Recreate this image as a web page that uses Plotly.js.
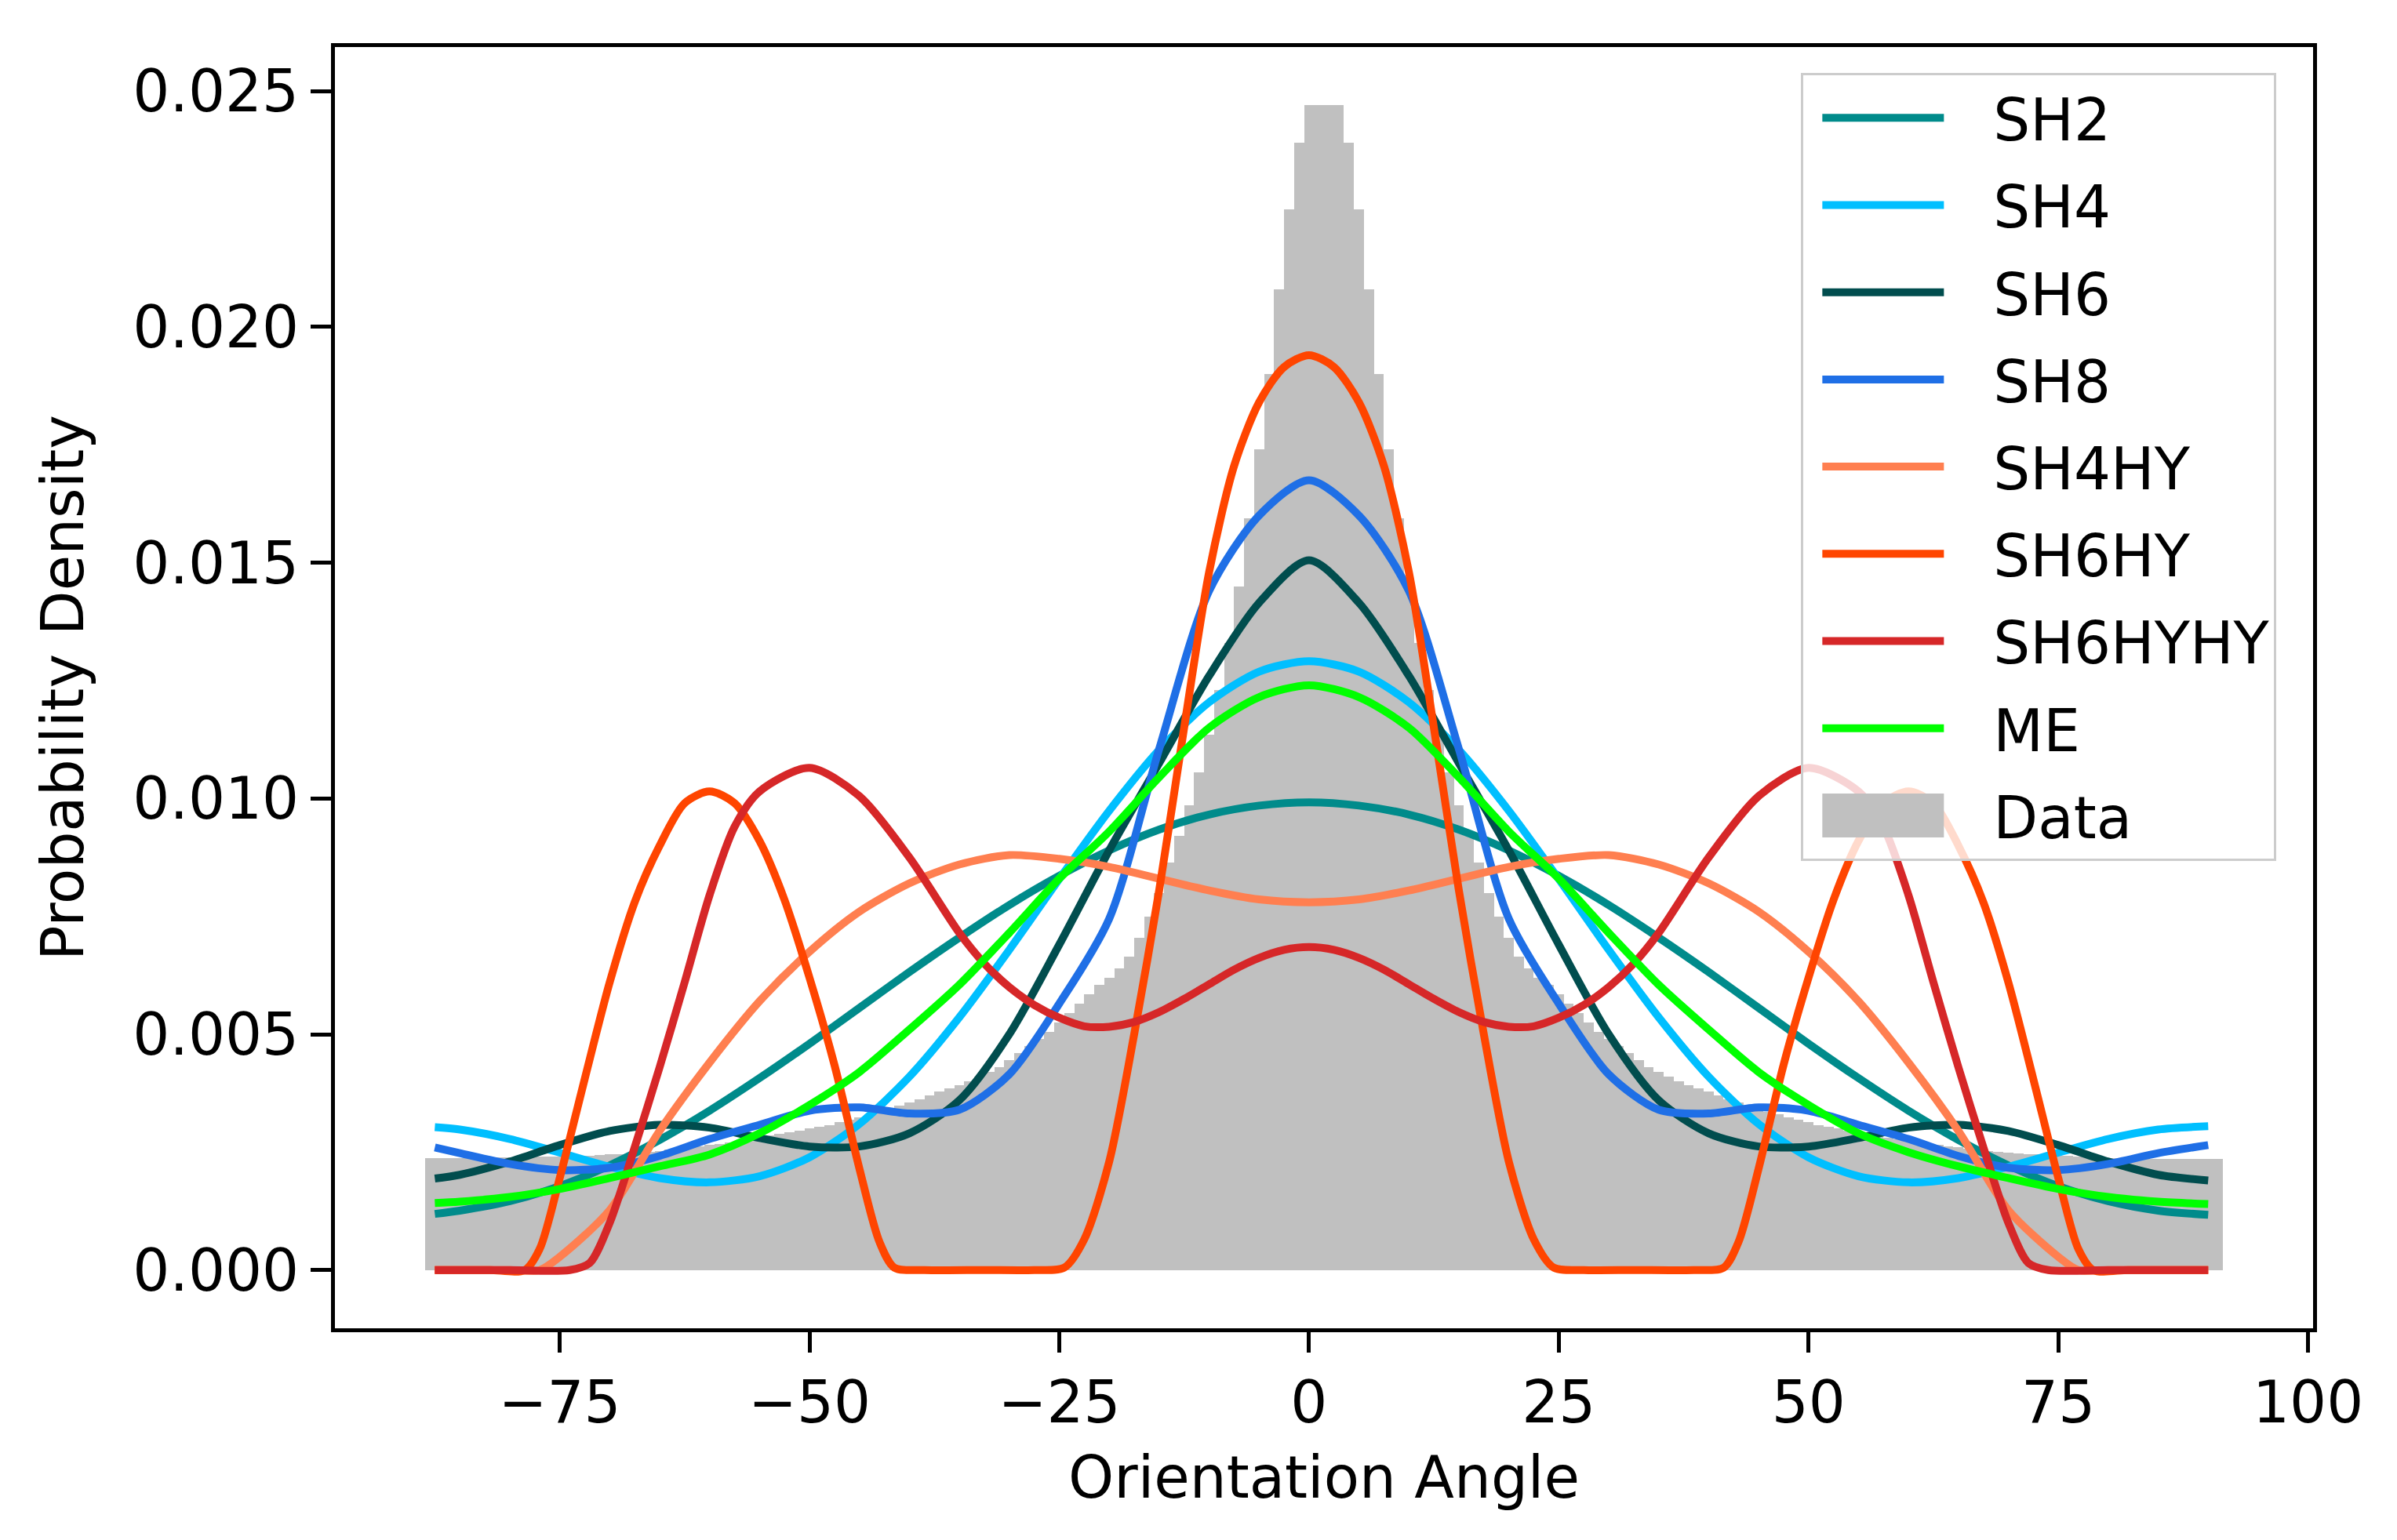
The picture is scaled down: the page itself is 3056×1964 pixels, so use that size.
<!DOCTYPE html>
<html>
<head>
<meta charset="utf-8">
<script src="https://cdn.plot.ly/plotly-3.0.1.min.js"></script>
<style>
  body { margin: 0; background: #ffffff; }
  #chart { width: 3056px; height: 1964px; }
</style>
</head>
<body>
<div id="chart"></div>
<script>
// Histogram of the measured orientation angles (1 degree bins, first bin centred on -88)
const dataBinStart = -88;
const dataBinWidth = 1;
const dataDensity = [
    0.00238, 0.00238, 0.00238, 0.00238, 0.00238, 0.00239, 0.00239, 0.00239, 0.00239, 0.00240,
    0.00240, 0.00240, 0.00241, 0.00241, 0.00242, 0.00242, 0.00243, 0.00244, 0.00245, 0.00246,
    0.00247, 0.00249, 0.00251, 0.00253, 0.00255, 0.00257, 0.00260, 0.00262, 0.00265, 0.00268,
    0.00271, 0.00274, 0.00278, 0.00281, 0.00285, 0.00289, 0.00292, 0.00296, 0.00300, 0.00304,
    0.00308, 0.00313, 0.00318, 0.00324, 0.00330, 0.00336, 0.00342, 0.00348, 0.00355, 0.00362,
    0.00370, 0.00378, 0.00385, 0.00392, 0.00400, 0.00410, 0.00420, 0.00430, 0.00445, 0.00460,
    0.00475, 0.00490, 0.00505, 0.00525, 0.00545, 0.00565, 0.00585, 0.00605, 0.00620, 0.00640,
    0.00665, 0.00705, 0.00750, 0.00800, 0.00865, 0.00920, 0.00985, 0.01055, 0.01135, 0.01230,
    0.01330, 0.01450, 0.01595, 0.01740, 0.01900, 0.02080, 0.02250, 0.02390, 0.02470, 0.02470,
    0.02470, 0.02470, 0.02390, 0.02250, 0.02080, 0.01900, 0.01740, 0.01595, 0.01450, 0.01330,
    0.01230, 0.01135, 0.01055, 0.00985, 0.00920, 0.00865, 0.00800, 0.00750, 0.00705, 0.00665,
    0.00640, 0.00620, 0.00605, 0.00585, 0.00565, 0.00545, 0.00525, 0.00505, 0.00490, 0.00475,
    0.00460, 0.00445, 0.00430, 0.00420, 0.00410, 0.00400, 0.00392, 0.00385, 0.00378, 0.00370,
    0.00362, 0.00355, 0.00348, 0.00342, 0.00336, 0.00330, 0.00324, 0.00318, 0.00313, 0.00308,
    0.00304, 0.00300, 0.00296, 0.00292, 0.00289, 0.00285, 0.00281, 0.00278, 0.00274, 0.00271,
    0.00268, 0.00265, 0.00262, 0.00260, 0.00257, 0.00255, 0.00253, 0.00251, 0.00249, 0.00247,
    0.00246, 0.00245, 0.00244, 0.00243, 0.00242, 0.00241, 0.00240, 0.00239, 0.00238, 0.00237,
    0.00237, 0.00236, 0.00236, 0.00236, 0.00235, 0.00235, 0.00235, 0.00235, 0.00235, 0.00235
];

// Angles where the smooth model curves were read
const angleGrid = [-87.5, -85, -80, -75, -70, -65, -60, -55, -50, -45, -40, -35, -30, -25, -20, -15, -10, -5,
                   0, 5, 10, 15, 20, 25, 30, 35, 40, 45, 50, 55, 60, 65, 70, 75, 80, 85, 90];

const sh2 = [0.00119, 0.00126, 0.00146, 0.00178, 0.00222, 0.00276, 0.00338, 0.00407, 0.00480, 0.00556,
             0.00632, 0.00705, 0.00774, 0.00836, 0.00890, 0.00934, 0.00966, 0.00985, 0.00992, 0.00985,
             0.00966, 0.00934, 0.00890, 0.00836, 0.00774, 0.00705, 0.00632, 0.00556, 0.00480, 0.00407,
             0.00338, 0.00276, 0.00222, 0.00178, 0.00146, 0.00126, 0.00117];

const sh4 = [0.00303, 0.00298, 0.00278, 0.00249, 0.00219, 0.00195, 0.00186, 0.00199, 0.00239, 0.00310,
             0.00410, 0.00536, 0.00679, 0.00829, 0.00974, 0.01103, 0.01204, 0.01269, 0.01291, 0.01269,
             0.01204, 0.01103, 0.00974, 0.00829, 0.00679, 0.00536, 0.00410, 0.00310, 0.00239, 0.00199,
             0.00186, 0.00195, 0.00219, 0.00249, 0.00278, 0.00298, 0.00305];

const sh6 = [0.00194, 0.00202, 0.00230, 0.00265, 0.00295, 0.00308, 0.00302, 0.00280, 0.00262, 0.00262,
             0.00290, 0.00360, 0.00500, 0.00690, 0.00890, 0.01075, 0.01260, 0.01415, 0.01505, 0.01415,
             0.01260, 0.01075, 0.00890, 0.00690, 0.00500, 0.00360, 0.00290, 0.00262, 0.00262, 0.00280,
             0.00302, 0.00308, 0.00295, 0.00265, 0.00230, 0.00202, 0.00190];

const sh8 = [0.00260, 0.00248, 0.00225, 0.00212, 0.00217, 0.00242, 0.00278, 0.00308, 0.00338, 0.00345,
             0.00332, 0.00340, 0.00415, 0.00565, 0.00745, 0.01105, 0.01440, 0.01600, 0.01675, 0.01600,
             0.01440, 0.01105, 0.00745, 0.00565, 0.00415, 0.00340, 0.00332, 0.00345, 0.00338, 0.00308,
             0.00278, 0.00242, 0.00217, 0.00212, 0.00225, 0.00248, 0.00265];

const me = [0.00142, 0.00145, 0.00155, 0.00172, 0.00195, 0.00220, 0.00245, 0.00290, 0.00350, 0.00420,
            0.00510, 0.00605, 0.00715, 0.00830, 0.00930, 0.01045, 0.01150, 0.01215, 0.01240, 0.01215,
            0.01150, 0.01045, 0.00930, 0.00830, 0.00715, 0.00605, 0.00510, 0.00420, 0.00350, 0.00290,
            0.00250, 0.00220, 0.00195, 0.00172, 0.00155, 0.00145, 0.00140];

// The hybrid curves are clipped at zero, so they were read at extra angles
const sh4hyAngles = [-87.5, -85, -80, -77, -75, -70, -65, -60, -55, -50, -45, -40, -35, -30, -25, -20, -15, -10, -5,
                     0, 5, 10, 15, 20, 25, 30, 35, 40, 45, 50, 55, 60, 65, 70, 75, 77, 80, 85, 90];
const sh4hy = [0, 0, 0, 0, 0.00028, 0.00127, 0.00295, 0.00440, 0.00570, 0.00675,
               0.00760, 0.00820, 0.00860, 0.00880, 0.00872, 0.00855, 0.00830, 0.00805, 0.00786,
               0.00780,
               0.00786, 0.00805, 0.00830, 0.00855, 0.00872, 0.00880, 0.00860, 0.00820, 0.00760,
               0.00675, 0.00570, 0.00440, 0.00295, 0.00127, 0.00028, 0, 0, 0, 0];

const sh6hyAngles = [-87.5, -86, -82, -78.5, -77, -75, -72.5, -70, -67.5, -65, -62.5, -60, -57.5, -55, -52.5,
                     -50, -47.5, -45, -43, -41.5, -38.5, -32.5, -27.5, -24.5, -22.5, -20, -17.5, -15, -12.5,
                     -10, -7.5, -5, -2.5, 0, 2.5, 5, 7.5, 10, 12.5, 15, 17.5, 20, 22.5, 24.5, 27.5, 32.5,
                     38.5, 41.5, 43, 45, 47.5, 50, 52.5, 55, 57.5, 60, 62.5, 65, 67.5, 70, 72.5, 75, 77,
                     78.5, 82, 86, 90];
const sh6hy = [0, 0, 0, 0, 0.00045, 0.00195, 0.00405, 0.00610, 0.00780, 0.00900, 0.00990, 0.01015, 0.00990,
               0.00910, 0.00785, 0.00620, 0.00435, 0.00215, 0.00060, 0.00005, 0, 0, 0, 0.00005, 0.00065,
               0.00230, 0.00500, 0.00805, 0.01150, 0.01480, 0.01705, 0.01840, 0.01915, 0.01940, 0.01915,
               0.01840, 0.01705, 0.01480, 0.01150, 0.00805, 0.00500, 0.00230, 0.00065, 0.00005, 0, 0,
               0, 0.00005, 0.00060, 0.00215, 0.00435, 0.00620, 0.00785, 0.00910, 0.00990, 0.01015,
               0.00990, 0.00900, 0.00780, 0.00610, 0.00405, 0.00195, 0.00045, 0, 0, 0, 0];

const sh6hyhyAngles = [-87.5, -85, -80, -74, -72, -70, -67.5, -65, -62.5, -60, -57.5, -55, -50, -45, -40,
                       -35, -32.5, -30, -27.5, -25, -22.5, -20, -17.5, -15, -12.5, -10, -7.5, -5, -2.5, 0,
                       2.5, 5, 7.5, 10, 12.5, 15, 17.5, 20, 22.5, 25, 27.5, 30, 32.5, 35, 40, 45, 50, 55,
                       57.5, 60, 62.5, 65, 67.5, 70, 72, 74, 80, 85, 90];
const sh6hyhy = [0, 0, 0, 0, 0.00015, 0.00100, 0.00260, 0.00430, 0.00610, 0.00795, 0.00940, 0.01015,
                 0.01065, 0.01005, 0.00875, 0.00715, 0.00650, 0.00600, 0.00562, 0.00535, 0.00517, 0.00516,
                 0.00526, 0.00547, 0.00575, 0.00606, 0.00637, 0.00662, 0.00679, 0.00685,
                 0.00679, 0.00662, 0.00637, 0.00606, 0.00575, 0.00547, 0.00526, 0.00516, 0.00517, 0.00535,
                 0.00562, 0.00600, 0.00650, 0.00715, 0.00875, 0.01005, 0.01065, 0.01015,
                 0.00940, 0.00795, 0.00610, 0.00430, 0.00260, 0.00100, 0.00015, 0, 0, 0, 0];

// Axis ticks
const xTicks = [-75, -50, -25, 0, 25, 50, 75, 100];
const yTicks = [0, 0.005, 0.01, 0.015, 0.02, 0.025];

const fontFamily = "DejaVu Sans";
const fontSize = 74;

// One line trace for a model curve
function curveTrace(name, x, y, color, rank) {
    return {
        type: "scatter",
        mode: "lines",
        name: name,
        x: x,
        y: y,
        line: { color: color, width: 10, shape: "spline", smoothing: 0.8 },
        legendrank: rank,
        legendgroup: name
    };
}

// Matplotlib style legend handles: a short line with a gap before the label, and a wide patch for the histogram
function restyleLegendHandles(gd) {
    gd.querySelectorAll(".legend .legendlines path").forEach(p => p.setAttribute("d", "M24,0h155"));
    gd.querySelectorAll(".legend .legendpoints path").forEach(p => p.setAttribute("d", "M-97,-28H58V28H-97Z"));
}

function drawChart() {
    let histTrace = {
        type: "bar",
        name: "Data",
        x0: dataBinStart,
        dx: dataBinWidth,
        y: dataDensity,
        width: dataBinWidth,
        marker: { color: "#c0c0c0", line: { width: 0 } },
        legendrank: 9,
        legendgroup: "Data"
    };

    let data = [
        histTrace,
        curveTrace("SH2", angleGrid, sh2, "#008b8b", 1),
        curveTrace("SH4", angleGrid, sh4, "#00bfff", 2),
        curveTrace("SH6", angleGrid, sh6, "#014d4e", 3),
        curveTrace("SH8", angleGrid, sh8, "#1f6fe6", 4),
        curveTrace("SH4HY", sh4hyAngles, sh4hy, "#ff7f50", 5),
        curveTrace("SH6HY", sh6hyAngles, sh6hy, "#ff4500", 6),
        curveTrace("SH6HYHY", sh6hyhyAngles, sh6hyhy, "#d62728", 7),
        curveTrace("ME", angleGrid, me, "#00ff00", 8)
    ];

    let layout = {
        width: 3056,
        height: 1964,
        margin: { l: 427, r: 107, t: 60, b: 270, pad: 0 },
        paper_bgcolor: "#ffffff",
        plot_bgcolor: "#ffffff",
        font: { family: fontFamily, size: fontSize, color: "#000000" },
        bargap: 0,
        showlegend: true,
        legend: {
            x: 0.9815,
            y: 0.98,
            xanchor: "right",
            yanchor: "top",
            bgcolor: "rgba(255,255,255,0.8)",
            bordercolor: "#cccccc",
            borderwidth: 3,
            itemwidth: 232,
            tracegroupgap: 12,
            font: { family: fontFamily, size: fontSize, color: "#000000" }
        },
        xaxis: {
            range: [-97.5, 100.5],
            tickvals: xTicks,
            ticks: "outside",
            ticklen: 26,
            tickwidth: 5,
            tickcolor: "#000000",
            showline: true,
            linewidth: 5,
            linecolor: "#000000",
            mirror: true,
            showgrid: false,
            zeroline: false,
            tickfont: { family: fontFamily, size: fontSize },
            title: { text: "Orientation Angle", font: { family: fontFamily, size: fontSize }, standoff: 30 }
        },
        yaxis: {
            range: [-0.001235, 0.025935],
            tickvals: yTicks,
            tickformat: ".3f",
            ticks: "outside",
            ticklen: 26,
            tickwidth: 5,
            tickcolor: "#000000",
            showline: true,
            linewidth: 5,
            linecolor: "#000000",
            mirror: true,
            showgrid: false,
            zeroline: false,
            tickfont: { family: fontFamily, size: fontSize },
            title: { text: "Probability Density", font: { family: fontFamily, size: fontSize }, standoff: 40 }
        }
    };

    Plotly.newPlot("chart", data, layout, { staticPlot: true }).then(restyleLegendHandles);
}

drawChart();
</script>
</body>
</html>
